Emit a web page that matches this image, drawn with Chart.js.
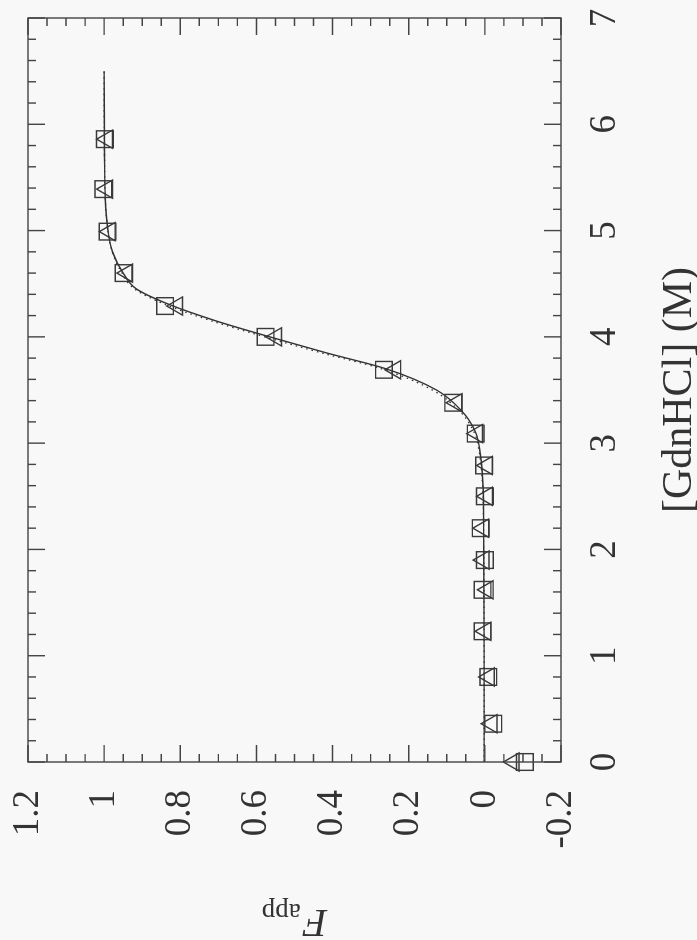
<!DOCTYPE html>
<html>
<head>
<meta charset="utf-8">
<script src="https://cdn.jsdelivr.net/npm/chart.js@4"></script>
<style>
  html, body { margin: 0; padding: 0; background: #f8f8f8; overflow: hidden; }
  #wrap { position: absolute; left: 0; top: 0; width: 697px; height: 940px; }
  /* the figure is printed turned a quarter turn, so the canvas is drawn upright and rotated */
  #myChart { position: absolute; left: 0; top: 0; width: 940px; height: 697px;
             transform-origin: 0 0; transform: translate(0px, 940px) rotate(-90deg); }
</style>
</head>
<body>
<div id="wrap"><canvas id="myChart" width="940" height="697"></canvas></div>
<script>

// [GdnHCl] (M) of the measured points
var gdn = [0, 0.36, 0.8, 1.23, 1.62, 1.9, 2.2, 2.5, 2.79, 3.09, 3.38, 3.69, 4.0, 4.29, 4.6, 4.99, 5.39, 5.86];
// F_app, squares
var fSquare = [-0.105, -0.022, -0.009, 0.006, 0.006, 0.0, 0.011, 0.0, 0.002, 0.024, 0.083, 0.265, 0.576, 0.840, 0.949, 0.991, 1.002, 0.998];
// F_app, triangles
var fTriangle = [-0.076, -0.018, -0.011, -0.002, -0.008, 0.003, 0.004, -0.006, -0.006, 0.020, 0.074, 0.235, 0.548, 0.808, 0.939, 0.985, 0.992, 0.992];

// fitted curves
var fitGdn = [0, 1, 2, 2.6, 2.9, 3.1, 3.3, 3.5, 3.7, 3.85, 4.0, 4.15, 4.3, 4.45, 4.6, 4.8, 5.0, 5.3, 5.7, 6.5];
var fitSolid = [0.002, 0.002, 0.003, 0.005, 0.012, 0.024, 0.06, 0.127, 0.26, 0.417, 0.565, 0.706, 0.826, 0.915, 0.95, 0.978, 0.99, 0.997, 0.999, 1.0];
var fitDotted = [0.002, 0.002, 0.003, 0.006, 0.014, 0.028, 0.066, 0.138, 0.272, 0.43, 0.578, 0.718, 0.836, 0.92, 0.953, 0.979, 0.99, 0.997, 0.999, 1.0];

var xTicks = [0, 1, 2, 3, 4, 5, 6, 7];
var yTicks = [-0.2, 0, 0.2, 0.4, 0.6, 0.8, 1, 1.2];

var ink = "#333";
var serif = '"Liberation Serif", "DejaVu Serif", serif';

function pairs(xs, ys) {
    var out = [];
    for (var i = 0; i < xs.length; i++) {
        out.push({x: xs[i], y: ys[i]});
    }
    return out;
}

// inward ticks on all four sides + frame, and the F_app label with its subscript
var framePlugin = {
    id: "frame",
    afterDraw: function (chart) {
        var ctx = chart.ctx;
        var a = chart.chartArea;
        var xs = chart.scales.x;
        var ys = chart.scales.y;
        ctx.save();
        ctx.strokeStyle = "#444";
        ctx.lineWidth = 1.4;
        ctx.strokeRect(a.left, a.top, a.right - a.left, a.bottom - a.top);

        ctx.beginPath();
        for (var i = 0; i <= 35; i++) {
            var px = xs.getPixelForValue(i / 5);
            var len = (i % 5 === 0) ? 17 : 8;
            ctx.moveTo(px, a.bottom); ctx.lineTo(px, a.bottom - len);
            ctx.moveTo(px, a.top); ctx.lineTo(px, a.top + len);
        }
        for (var j = 0; j <= 28; j++) {
            var py = ys.getPixelForValue(-0.2 + j * 0.05);
            var len2 = (j % 4 === 0) ? 17 : 8;
            ctx.moveTo(a.left, py); ctx.lineTo(a.left + len2, py);
            ctx.moveTo(a.right, py); ctx.lineTo(a.right - len2, py);
        }
        ctx.stroke();

        // y axis title: F with subscript app
        var mid = (a.top + a.bottom) / 2;
        ctx.translate(30, mid);
        ctx.rotate(-Math.PI / 2);
        ctx.fillStyle = ink;
        ctx.textBaseline = "alphabetic";
        ctx.font = "italic 40px " + serif;
        var wF = ctx.measureText("F").width;
        ctx.font = "27px " + serif;
        var wSub = ctx.measureText("app").width;
        var start = -(wF + wSub + 2) / 2;
        ctx.font = "italic 40px " + serif;
        ctx.fillText("F", start, 0);
        ctx.font = "27px " + serif;
        ctx.fillText("app", start + wF + 2, 6);
        ctx.restore();
    }
};

var ctx = document.getElementById("myChart");

var chart = new Chart(ctx, {
    type: "scatter",
    data: {
        datasets: [
            {
                label: "fit (dotted)",
                data: pairs(fitGdn, fitDotted),
                showLine: true,
                borderColor: ink,
                borderWidth: 1.3,
                borderDash: [1.5, 4],
                pointRadius: 0,
                cubicInterpolationMode: "monotone"
            },
            {
                label: "fit",
                data: pairs(fitGdn, fitSolid),
                showLine: true,
                borderColor: ink,
                borderWidth: 1.4,
                pointRadius: 0,
                cubicInterpolationMode: "monotone"
            },
            {
                label: "squares",
                data: pairs(gdn, fSquare),
                clip: false,
                pointStyle: "rect",
                pointRadius: 11.8,
                pointBorderWidth: 1.4,
                pointBorderColor: "#3a3a3a",
                pointBackgroundColor: "rgba(0,0,0,0)"
            },
            {
                label: "triangles",
                data: pairs(gdn, fTriangle),
                clip: false,
                pointStyle: "triangle",
                pointRadius: 10.5,
                pointBorderWidth: 1.4,
                pointBorderColor: "#3a3a3a",
                pointBackgroundColor: "rgba(0,0,0,0)"
            }
        ]
    },
    options: {
        responsive: false,
        animation: false,
        devicePixelRatio: 1,
        layout: { padding: { top: 28, right: 18, bottom: 0, left: 0 } },
        plugins: {
            legend: { display: false },
            tooltip: { enabled: false }
        },
        scales: {
            x: {
                type: "linear",
                min: 0,
                max: 7,
                grid: { display: false, drawTicks: false },
                border: { display: false },
                afterBuildTicks: function (s) { s.ticks = xTicks.map(function (v) { return {value: v}; }); },
                afterFit: function (s) {
                    s.height = 136;
                    s.paddingLeft = 0; s.paddingRight = 0;
                },
                ticks: {
                    color: ink,
                    padding: 22,
                    maxRotation: 0,
                    font: { family: serif, size: 37 },
                    callback: function (v) { return String(v); }
                },
                title: {
                    display: true,
                    text: "[GdnHCl] (M)",
                    color: ink,
                    font: { family: serif, size: 42, lineHeight: 0.8 },
                    padding: { top: 0, bottom: 0 }
                }
            },
            y: {
                type: "linear",
                min: -0.2,
                max: 1.2,
                grid: { display: false, drawTicks: false },
                border: { display: false },
                afterBuildTicks: function (s) { s.ticks = yTicks.map(function (v) { return {value: v}; }); },
                afterFit: function (s) {
                    s.width = 178;
                    s.paddingTop = 0; s.paddingBottom = 0;
                },
                ticks: {
                    color: ink,
                    padding: 28,
                    font: { family: serif, size: 37 },
                    callback: function (v) { return String(Math.round(v * 10) / 10); }
                }
            }
        }
    },
    plugins: [framePlugin]
});

</script>
</body>
</html>
